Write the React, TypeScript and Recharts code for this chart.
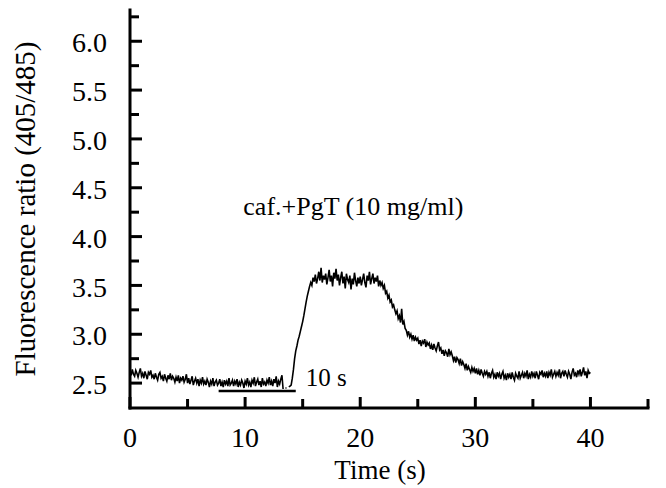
import { Label, Line, LineChart, ReferenceDot, ReferenceLine, XAxis, YAxis } from "recharts";

// fluorescence ratio (405/485), one sample every 0.1 s from 0 to 40 s
const SAMPLE_STEP = 0.1;
const ratio: (number | null)[] = [
	2.62, 2.58, 2.64, 2.59, 2.57, 2.63, 2.6, 2.56, 2.61, 2.65, // 0 s
	2.57, 2.6, 2.55, 2.62, 2.58, 2.54, 2.61, 2.59, 2.63, 2.56, // 1 s
	2.58, 2.54, 2.6, 2.56, 2.53, 2.59, 2.61, 2.55, 2.57, 2.52, // 2 s
	2.59, 2.55, 2.52, 2.58, 2.54, 2.6, 2.53, 2.57, 2.55, 2.51, // 3 s
	2.56, 2.52, 2.58, 2.5, 2.55, 2.53, 2.57, 2.51, 2.54, 2.59, // 4 s
	2.5, 2.55, 2.49, 2.53, 2.57, 2.48, 2.52, 2.55, 2.5, 2.54, // 5 s
	2.47, 2.53, 2.5, 2.56, 2.49, 2.52, 2.48, 2.54, 2.51, 2.46, // 6 s
	2.52, 2.49, 2.55, 2.47, 2.51, 2.53, 2.48, 2.5, 2.54, 2.47, // 7 s
	2.51, 2.46, 2.53, 2.49, 2.52, 2.47, 2.55, 2.48, 2.5, 2.53, // 8 s
	2.47, 2.52, 2.49, 2.54, 2.46, 2.51, 2.48, 2.53, 2.5, 2.45, // 9 s
	2.52, 2.49, 2.55, 2.48, 2.51, 2.46, 2.53, 2.5, 2.56, 2.47, // 10 s
	2.51, 2.54, 2.48, 2.52, 2.46, 2.55, 2.49, 2.51, 2.47, 2.53, // 11 s
	2.5, 2.56, 2.48, 2.52, 2.47, 2.54, 2.5, 2.57, 2.46, 2.52, // 12 s
	2.49, 2.54, 2.58, 2.44, null, 2.45, 2.45, null, 2.46, 2.47, // 13 s, gap in the trace
	2.48, 2.55, 2.64, 2.75, 2.83, 2.88, 2.94, 2.98, 3.03, 3.08, // 14 s
	3.13, 3.19, 3.26, 3.33, 3.39, 3.44, 3.49, 3.53, 3.5, 3.58, // 15 s
	3.54, 3.61, 3.52, 3.57, 3.64, 3.55, 3.68, 3.53, 3.6, 3.56, // 16 s
	3.62, 3.51, 3.58, 3.66, 3.54, 3.6, 3.49, 3.63, 3.57, 3.67, // 17 s
	3.55, 3.61, 3.5, 3.58, 3.64, 3.52, 3.59, 3.47, 3.62, 3.56, // 18 s
	3.53, 3.6, 3.46, 3.57, 3.51, 3.63, 3.55, 3.49, 3.58, 3.52, // 19 s
	3.59, 3.5, 3.56, 3.62, 3.53, 3.48, 3.6, 3.55, 3.64, 3.51, // 20 s
	3.57, 3.62, 3.52, 3.58, 3.54, 3.6, 3.49, 3.55, 3.5, 3.53, // 21 s
	3.47, 3.5, 3.42, 3.44, 3.37, 3.4, 3.33, 3.35, 3.28, 3.3, // 22 s
	3.25, 3.21, 3.24, 3.16, 3.19, 3.12, 3.26, 3.1, 3.13, 3.06, // 23 s
	3.04, 2.99, 3.03, 2.97, 3.0, 2.95, 2.99, 2.93, 2.97, 2.94, // 24 s
	2.96, 2.9, 2.94, 2.88, 2.93, 2.91, 2.95, 2.87, 2.92, 2.89, // 25 s
	2.91, 2.85, 2.89, 2.84, 2.9, 2.86, 2.83, 2.88, 2.92, 2.84, // 26 s
	2.86, 2.8, 2.84, 2.78, 2.83, 2.81, 2.77, 2.85, 2.79, 2.82, // 27 s
	2.78, 2.73, 2.77, 2.71, 2.76, 2.74, 2.7, 2.75, 2.68, 2.72, // 28 s
	2.69, 2.65, 2.7, 2.63, 2.67, 2.64, 2.61, 2.66, 2.62, 2.65, // 29 s
	2.6, 2.65, 2.59, 2.63, 2.58, 2.64, 2.6, 2.57, 2.62, 2.59, // 30 s
	2.62, 2.57, 2.61, 2.55, 2.6, 2.63, 2.56, 2.59, 2.54, 2.61, // 31 s
	2.57, 2.6, 2.54, 2.59, 2.62, 2.55, 2.58, 2.53, 2.6, 2.56, // 32 s
	2.59, 2.54, 2.61, 2.56, 2.53, 2.6, 2.57, 2.55, 2.62, 2.55, // 33 s
	2.58, 2.61, 2.55, 2.6, 2.57, 2.63, 2.54, 2.59, 2.56, 2.62, // 34 s
	2.57, 2.6, 2.55, 2.62, 2.58, 2.54, 2.61, 2.59, 2.63, 2.56, // 35 s
	2.6, 2.57, 2.62, 2.55, 2.61, 2.58, 2.64, 2.56, 2.59, 2.62, // 36 s
	2.57, 2.61, 2.58, 2.64, 2.55, 2.6, 2.62, 2.57, 2.63, 2.59, // 37 s
	2.56, 2.62, 2.59, 2.54, 2.61, 2.65, 2.58, 2.6, 2.56, 2.63, // 38 s
	2.59, 2.64, 2.57, 2.61, 2.66, 2.58, 2.62, 2.55, 2.63, 2.6, // 39 s
	2.61, // 40 s
];

const xTicks = [0, 5, 10, 15, 20, 25, 30, 35, 40, 45];
const xLabels = ["0", "10", "20", "30", "40"];
const yTicks = [2.5, 2.75, 3, 3.25, 3.5, 3.75, 4, 4.25, 4.5, 4.75, 5, 5.25, 5.5, 5.75, 6, 6.25];
const yLabels = ["2.5", "3.0", "3.5", "4.0", "4.5", "5.0", "5.5", "6.0"];

const annotation = "caf.+PgT (10 mg/ml)";
const scaleBarText = "10 s";

const FONT = "'Liberation Serif', 'Times New Roman', serif";
const X_MARGIN = 29;
const Y_MARGIN = 23;

const data = ratio.map((r, i) => ({ t: Math.round(i * SAMPLE_STEP * 10) / 10, r }));

function XTick({ x, y, payload }: any) {
	const v = payload.value;
	const axisY = y - X_MARGIN;
	const label = xLabels.find((l) => Number(l) === v);
	return (
		<g>
			<line x1={x} x2={x} y1={axisY} y2={axisY - (v % 10 === 0 ? 11 : 9)} stroke="#000" strokeWidth={3} />
			{label && (
				<text x={x} y={y} dy="0.35em" textAnchor="middle" fontSize={28} fontFamily={FONT} fill="#000">
					{label}
				</text>
			)}
		</g>
	);
}

function YTick({ x, y, payload }: any) {
	const v = payload.value;
	const axisX = x + Y_MARGIN;
	const label = yLabels.find((l) => Number(l) === v);
	return (
		<g>
			<line x1={axisX} x2={axisX + (label ? 12 : 9)} y1={y} y2={y} stroke="#000" strokeWidth={3} />
			{label && (
				<text x={x} y={y} dy="0.4em" textAnchor="end" fontSize={28} fontFamily={FONT} fill="#000">
					{label}
				</text>
			)}
		</g>
	);
}

export default function App() {
	return (
		<div style={{ position: "absolute", left: 0, top: 0, width: 666, height: 488, background: "#fff" }}>
			<LineChart width={666} height={488} data={data} margin={{ top: 10, right: 18, bottom: 0, left: 0 }}>
				<XAxis
					dataKey="t"
					type="number"
					domain={[0, 45]}
					ticks={xTicks}
					interval={0}
					height={80}
					tickSize={0}
					tickMargin={X_MARGIN}
					tick={<XTick />}
					axisLine={{ stroke: "#000", strokeWidth: 3, strokeLinecap: "square" }}
				>
					<Label
						value="Time (s)"
						position="insideBottom"
						offset={9}
						dx={-9}
						style={{ fontSize: 27, fontFamily: FONT, fill: "#000" }}
					/>
				</XAxis>
				<YAxis
					type="number"
					domain={[2.245, 6.32]}
					ticks={yTicks}
					interval={0}
					width={130}
					tickSize={0}
					tickMargin={Y_MARGIN}
					tick={<YTick />}
					axisLine={{ stroke: "#000", strokeWidth: 3, strokeLinecap: "square" }}
					allowDataOverflow
				>
					<Label
						value="Fluorescence ratio (405/485)"
						angle={-90}
						position="insideLeft"
						offset={25}
						style={{ textAnchor: "middle", fontSize: 29, fontFamily: FONT, fill: "#000" }}
					/>
				</YAxis>
				<ReferenceDot
					x={19.4}
					y={4.32}
					r={0}
					fill="none"
					stroke="none"
					label={{ value: annotation, position: "center", fontSize: 26, fontFamily: FONT, fill: "#000" }}
				/>
				<ReferenceLine
					segment={[
						{ x: 7.7, y: 2.42 },
						{ x: 14.4, y: 2.42 },
					]}
					stroke="#000"
					strokeWidth={2.5}
					label={{ value: scaleBarText, position: "right", offset: 10, dy: -14, fontSize: 25, fontFamily: FONT, fill: "#000" }}
				/>
				<Line
					type="linear"
					dataKey="r"
					stroke="#000"
					strokeWidth={1.6}
					dot={false}
					connectNulls={false}
					isAnimationActive={false}
				/>
			</LineChart>
		</div>
	);
}
